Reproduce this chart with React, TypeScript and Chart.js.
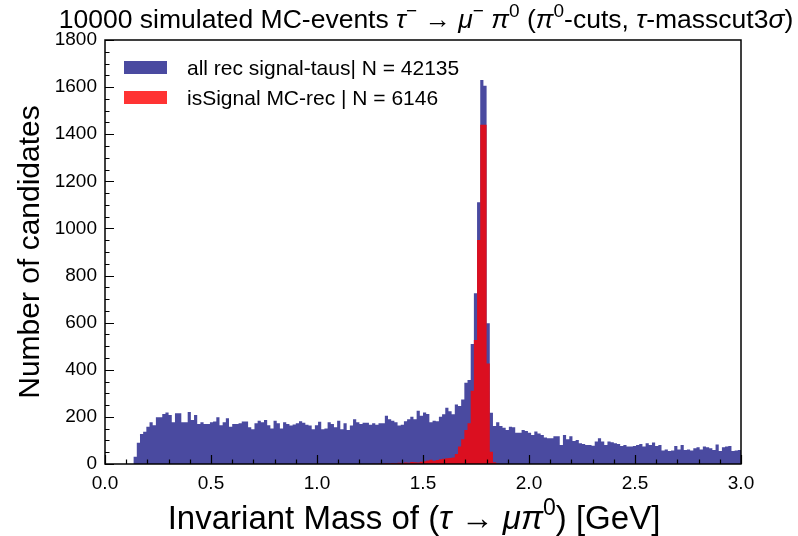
import React, { useEffect, useRef } from "react";
import { Chart, registerables } from "chart.js";

Chart.register(...registerables);

// Histogram binning (GeV)
const binLow = 0.0;
const binWidth = 0.015;

// Counts per bin, 200 bins from 0.0 to 3.0 GeV
const allRecSignalTaus: number[] = [
  0, 0, 0, 0, 0, 0, 0, 0, 0, 31,
  90, 127, 137, 158, 177, 165, 198, 198, 212, 219,
  208, 177, 215, 215, 177, 177, 221, 187, 208, 170,
  177, 170, 170, 177, 180, 198, 165, 177, 194, 158,
  170, 170, 173, 180, 180, 156, 148, 173, 184, 177,
  187, 165, 151, 184, 173, 151, 177, 170, 163, 168,
  173, 182, 175, 167, 163, 148, 165, 179, 148, 151,
  177, 170, 156, 184, 148, 173, 144, 163, 190, 177,
  170, 175, 175, 167, 173, 167, 173, 173, 205, 190,
  184, 177, 163, 167, 182, 190, 201, 190, 226, 205,
  219, 212, 177, 184, 182, 201, 211, 239, 224, 211,
  253, 246, 274, 345, 357, 509, 725, 1111, 1630, 1606,
  597, 218, 161, 177, 161, 154, 144, 158, 156, 133,
  133, 144, 140, 133, 123, 138, 130, 123, 113, 109,
  109, 118, 118, 81, 123, 105, 118, 98, 102, 88,
  85, 81, 81, 78, 95, 109, 95, 81, 95, 92,
  88, 85, 76, 81, 74, 74, 76, 81, 85, 74,
  88, 81, 91, 76, 81, 57, 62, 55, 57, 76,
  62, 81, 59, 62, 57, 67, 71, 62, 74, 71,
  67, 59, 83, 55, 71, 74, 76, 55, 57, 59,
];

const isSignalMCRec: number[] = [
  0, 0, 0, 0, 0, 0, 0, 0, 0, 0,
  0, 0, 0, 0, 0, 0, 0, 0, 0, 0,
  0, 0, 0, 0, 0, 0, 0, 0, 0, 0,
  0, 0, 0, 0, 0, 0, 0, 0, 0, 0,
  0, 0, 0, 0, 0, 0, 0, 0, 0, 0,
  0, 0, 0, 0, 0, 0, 0, 0, 0, 0,
  0, 0, 0, 0, 0, 0, 0, 0, 0, 0,
  0, 0, 0, 0, 0, 0, 0, 0, 0, 0,
  0, 0, 0, 0, 1, 0, 2, 1, 3, 2,
  4, 3, 5, 4, 6, 5, 8, 7, 6, 10,
  12, 15, 18, 14, 17, 20, 22, 24, 26, 28,
  42, 74, 105, 144, 173, 311, 526, 951, 1440, 1440,
  427, 52, 7, 2, 0, 0, 0, 0, 0, 0,
  0, 0, 0, 0, 0, 0, 0, 0, 0, 0,
  0, 0, 0, 0, 0, 0, 0, 0, 0, 0,
  0, 0, 0, 0, 0, 0, 0, 0, 0, 0,
  0, 0, 0, 0, 0, 0, 0, 0, 0, 0,
  0, 0, 0, 0, 0, 0, 0, 0, 0, 0,
  0, 0, 0, 0, 0, 0, 0, 0, 0, 0,
  0, 0, 0, 0, 0, 0, 0, 0, 0, 0,
];

const legendLabels = ["all rec signal-taus| N = 42135", "isSignal MC-rec | N = 6146"];
const yLabel = "Number of candidates";

type Seg = { t: string; it?: boolean; sup?: boolean };
const titleSegs: Seg[] = [
  { t: "10000 simulated MC-events " },
  { t: "τ", it: true },
  { t: "−", sup: true },
  { t: " → " },
  { t: "μ", it: true },
  { t: "−", sup: true },
  { t: " " },
  { t: "π", it: true },
  { t: "0", sup: true },
  { t: " (" },
  { t: "π", it: true },
  { t: "0", sup: true },
  { t: "-cuts, " },
  { t: "τ", it: true },
  { t: "-masscut3" },
  { t: "σ", it: true },
  { t: ")" },
];
const xLabelSegs: Seg[] = [
  { t: "Invariant Mass of (" },
  { t: "τ", it: true },
  { t: " → " },
  { t: "μπ", it: true },
  { t: "0", sup: true },
  { t: ") [GeV]" },
];

const FAM = '"Liberation Sans", Arial, Helvetica, sans-serif';
const BLUE = "rgb(74, 74, 160)";
const RED_ON_BLUE = "rgb(219, 15, 32)";
const RED_LEGEND = "rgb(255, 51, 51)";

function drawRich(ctx: CanvasRenderingContext2D, segs: Seg[], cx: number, baseline: number, size: number) {
  const fontOf = (s: Seg) => `${s.it ? "italic " : ""}${s.sup ? Math.round(size * 0.7) : size}px ${FAM}`;
  let total = 0;
  for (const s of segs) {
    ctx.font = fontOf(s);
    total += ctx.measureText(s.t).width;
  }
  let x = cx - total / 2;
  ctx.textAlign = "left";
  ctx.textBaseline = "alphabetic";
  for (const s of segs) {
    ctx.font = fontOf(s);
    ctx.fillText(s.t, x, baseline - (s.sup ? size * 0.42 : 0));
    x += ctx.measureText(s.t).width;
  }
}

// step-histogram points: left edge of every bin plus the closing right edge
function histPoints(counts: number[]) {
  const pts = counts.map((c, i) => ({ x: binLow + i * binWidth, y: c }));
  pts.push({ x: binLow + counts.length * binWidth, y: counts[counts.length - 1] });
  return pts;
}

const decorPlugin = {
  id: "decor",
  afterDraw(chart: any) {
    const ctx: CanvasRenderingContext2D = chart.ctx;
    const { left, right, top, bottom } = chart.chartArea;
    const xs = chart.scales.x;
    const ys = chart.scales.y;
    ctx.save();
    ctx.fillStyle = "#000";
    ctx.strokeStyle = "#000";
    // frame
    ctx.lineWidth = 1.5;
    ctx.strokeRect(left, top, right - left, bottom - top);
    // ticks (inward)
    ctx.lineWidth = 1.2;
    ctx.beginPath();
    for (let v = 0; v <= 1800; v += 50) {
      const y = Math.round(ys.getPixelForValue(v)) + 0.5;
      const len = v % 200 === 0 ? 9 : 4.5;
      ctx.moveTo(left, y);
      ctx.lineTo(left + len, y);
    }
    for (let i = 0; i <= 30; i++) {
      const v = i / 10;
      const x = Math.round(xs.getPixelForValue(v)) + 0.5;
      const len = i % 5 === 0 ? 9 : 4.5;
      ctx.moveTo(x, bottom);
      ctx.lineTo(x, bottom - len);
    }
    ctx.stroke();

    // legend
    const lx = 124, lw = 43, lh = 13;
    const rows = [
      { y: 61, c: BLUE, t: legendLabels[0] },
      { y: 91, c: RED_LEGEND, t: legendLabels[1] },
    ];
    ctx.font = `21px ${FAM}`;
    ctx.textAlign = "left";
    ctx.textBaseline = "alphabetic";
    for (const r of rows) {
      ctx.fillStyle = r.c;
      ctx.fillRect(lx, r.y, lw, lh);
      ctx.fillStyle = "#000";
      ctx.fillText(r.t, 187, r.y + 14);
    }

    // title
    drawRich(ctx, titleSegs, (left + right) / 2 + 3, 28, 26.5);
    // x label
    drawRich(ctx, xLabelSegs, (left + right) / 2 - 9, 529, 33);
    // y label
    ctx.save();
    ctx.translate(39, (top + bottom) / 2);
    ctx.rotate(-Math.PI / 2);
    ctx.font = `30px ${FAM}`;
    ctx.textAlign = "center";
    ctx.textBaseline = "alphabetic";
    ctx.fillStyle = "#000";
    ctx.fillText(yLabel, 0, 0);
    ctx.restore();
    ctx.restore();
  },
};

export default function App() {
  const ref = useRef<HTMLCanvasElement | null>(null);
  useEffect(() => {
    if (!ref.current) return;
    const chart = new Chart(ref.current, {
      type: "line",
      data: {
        datasets: [
          {
            label: legendLabels[0],
            data: histPoints(allRecSignalTaus),
            stepped: "before" as any,
            fill: "origin",
            backgroundColor: BLUE,
            borderColor: BLUE,
            borderWidth: 0,
            pointRadius: 0,
            order: 1,
          } as any,
          {
            label: legendLabels[1],
            data: histPoints(isSignalMCRec),
            stepped: "before" as any,
            fill: "origin",
            backgroundColor: RED_ON_BLUE,
            borderColor: RED_ON_BLUE,
            borderWidth: 0,
            pointRadius: 0,
            order: 0,
          } as any,
        ],
      },
      options: {
        responsive: false,
        animation: false,
        devicePixelRatio: 1,
        layout: { padding: { top: 40, right: 57, left: 0, bottom: 0 } },
        plugins: { legend: { display: false }, title: { display: false }, tooltip: { enabled: false } },
        scales: {
          x: {
            type: "linear",
            min: 0,
            max: 3,
            offset: false,
            grid: { display: false, drawTicks: false },
            border: { display: false },
            ticks: {
              stepSize: 0.5,
              color: "#000",
              font: { size: 19, family: FAM },
              padding: 8,
              maxRotation: 0,
              callback: (v: any) => Number(v).toFixed(1),
            },
            afterFit: (s: any) => { s.height = 72; },
          },
          y: {
            min: 0,
            max: 1800,
            grid: { display: false, drawTicks: false },
            border: { display: false },
            ticks: {
              stepSize: 200,
              color: "#000",
              font: { size: 19, family: FAM },
              padding: 8,
              callback: (v: any) => String(Math.round(Number(v))),
            },
            afterFit: (s: any) => { s.width = 105; },
          },
        },
      },
      plugins: [decorPlugin],
    });
    return () => chart.destroy();
  }, []);
  return (
    <div style={{ position: "fixed", left: 0, top: 0, width: 798, height: 536, background: "#fff" }}>
      <canvas ref={ref} width={798} height={536} style={{ display: "block", width: 798, height: 536 }} />
    </div>
  );
}
